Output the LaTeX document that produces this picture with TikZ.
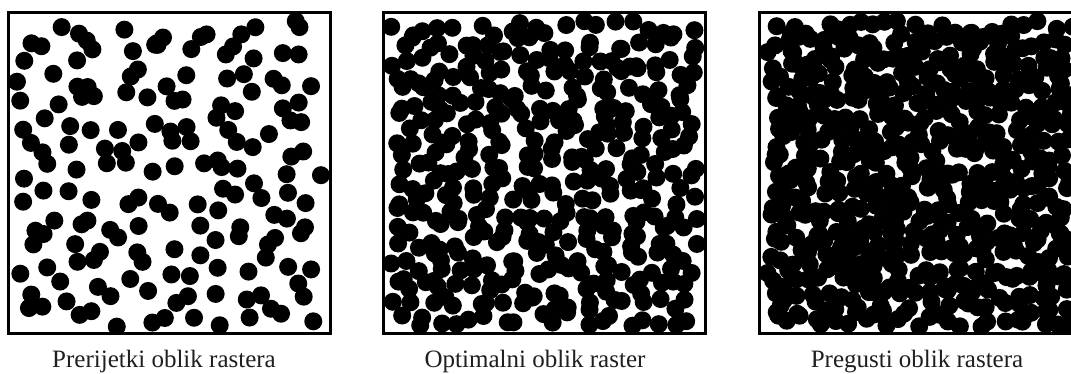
\documentclass[tikz,border=0pt]{standalone}
\usepackage{fontspec}
\setmainfont{Liberation Serif}
% #1 left x, #2 grid count per side, #3 seed, #4 dot radius
\newcommand\rasterbox[4]{%
  \begin{scope}
    \clip (#1,13) rectangle ++(322,320);
    \pgfmathsetseed{#3}
    \pgfmathsetmacro\cell{306/#2}
    \pgfmathtruncatemacro\last{#2-1}
    \foreach \gi in {0,...,\last}{%
      \foreach \gj in {0,...,\last}{%
        \pgfmathsetmacro\px{#1+8+(\gi+rnd)*\cell}%
        \pgfmathsetmacro\py{13+8+(\gj+rnd)*\cell}%
        \fill[dotfill] (\px,\py) circle (#4);
      }
    }
  \end{scope}
  \draw[boxline] (#1,13) rectangle ++(322,320);
}
\begin{document}
\begin{tikzpicture}[x=1pt,y=-1pt,
  dotfill/.style={fill=black},
  boxline/.style={draw=black,line width=3pt},
  caption/.style={font=\fontsize{25}{29}\selectfont,anchor=base,text=black!88}]
\useasboundingbox (0,0) rectangle (1071,374);
\clip (0,0) rectangle (1071,374);
\fill[white] (0,0) rectangle (1071,374);
\rasterbox{8}{13}{11}{9pt}
\rasterbox{383}{20}{23}{9pt}
\rasterbox{759}{24}{37}{9pt}
\node[caption] (c1) at (164,367) {Prerijetki oblik rastera};
\node[caption] (c2) at (535,367) {Optimalni oblik raster};
\node[caption] (c3) at (917,367) {Pregusti oblik rastera};
\end{tikzpicture}
\end{document}
